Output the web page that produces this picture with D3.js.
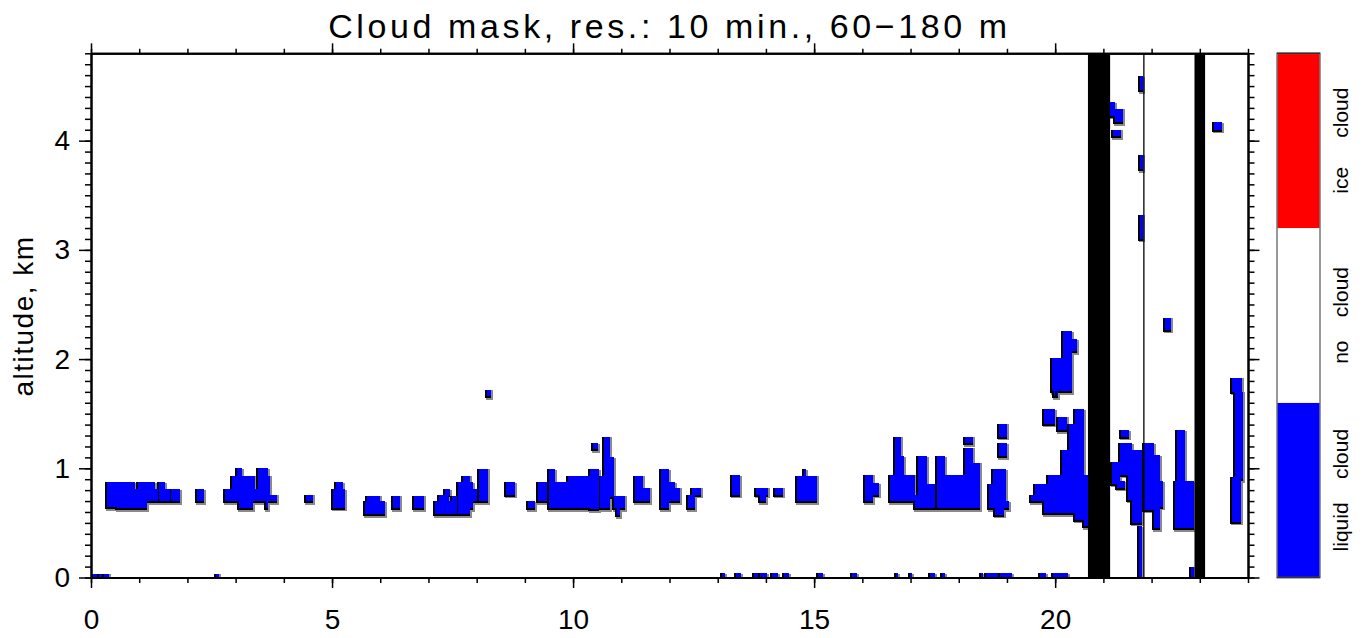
<!DOCTYPE html>
<html><head><meta charset="utf-8">
<script src="https://cdn.jsdelivr.net/npm/d3@7"></script>
<style>
body{margin:0;background:#fff;}
svg{display:block;}
text{font-family:"Liberation Sans",Arial,Helvetica,sans-serif;fill:#000;}
</style>
</head><body>
<svg id="chart" width="1366" height="638"></svg>
<script>
// ---------------- data ----------------
const titleText = "Cloud mask, res.: 10 min., 60\u2212180 m";
const yAxisLabel = "altitude, km";
const timeDomain = [0, 24];
const altDomain = [0, 4.8];
const timeTicks = [0, 5, 10, 15, 20];
const timeMinorTicks = d3.range(0, 25);
const altTicks = [0, 1, 2, 3, 4];
const altMinorTicks = d3.range(0, 49).map(i => i / 10);
const missingBars = [[20.68, 21.14], [22.89, 23.11]];
const missingLines = [21.84];
const legendLabels = ["liquid    cloud", "no    cloud", "ice     cloud"];
const legendColors = ["#0000ff", "#ffffff", "#ff0000"];
// liquid cloud cells: [time start h, time end h, base km, top km]
const liquidCloud = [
  [0.02,0.12,0,0.035],[0.16,0.23,0,0.035],[0.27,0.37,0,0.035],[2.59,2.66,0,0.035],
  [0.33,0.53,0.645,0.87],[0.53,0.91,0.635,0.87],[0.91,0.98,0.635,0.81],[0.98,1.155,0.635,0.87],
  [1.155,1.33,0.70,0.87],[1.33,1.40,0.70,0.81],
  [1.41,1.54,0.70,0.87],[1.54,1.64,0.70,0.81],
  [1.66,1.85,0.70,0.81],
  [2.19,2.35,0.70,0.81],
  [2.77,2.92,0.70,0.81],[2.92,3.06,0.70,0.93],[3.02,3.13,0.93,1.0],[3.06,3.37,0.635,0.93],
  [3.37,3.40,0.70,0.93],[3.40,3.47,0.70,0.81],[3.47,3.62,0.70,1.0],[3.62,3.67,0.635,1.0],
  [3.67,3.71,0.70,0.93],[3.71,3.85,0.70,0.76],
  [4.46,4.60,0.70,0.76],
  [5.03,5.27,0.64,0.81],[5.08,5.22,0.81,0.87],
  [5.69,6.09,0.58,0.70],[5.72,6.00,0.70,0.75],
  [6.27,6.41,0.635,0.75],
  [6.71,6.91,0.635,0.75],
  [7.14,7.60,0.58,0.70],[7.21,7.42,0.70,0.757],[7.34,7.44,0.757,0.81],[7.49,7.59,0.70,0.75],
  [7.62,7.86,0.58,0.87],[7.72,7.86,0.87,0.93],[7.86,7.93,0.635,0.87],[7.93,8.0,0.70,0.81],
  [8.04,8.24,0.70,0.995],
  [8.22,8.30,1.66,1.72],
  [8.61,8.80,0.757,0.873],
  [9.06,9.21,0.635,0.70],
  [9.27,9.45,0.70,0.873],
  [9.50,9.63,0.635,0.99],[9.63,9.90,0.635,0.87],[9.90,10.35,0.635,0.93],[10.35,10.53,0.625,0.99],
  [10.55,10.65,0.635,0.925],[10.65,10.77,0.635,1.29],[10.77,10.84,0.74,1.10],[10.84,11.08,0.635,0.75],
  [10.91,10.98,0.57,0.635],[10.42,10.51,1.175,1.23],
  [11.29,11.46,0.70,0.93],[11.46,11.60,0.70,0.82],
  [11.83,11.98,0.635,0.99],[11.98,12.11,0.70,0.87],[12.11,12.22,0.70,0.82],
  [12.39,12.53,0.635,0.76],[12.46,12.65,0.76,0.82],
  [13.29,13.46,0.757,0.934],
  [13.80,14.05,0.757,0.82],[13.88,14.0,0.70,0.757],
  [14.19,14.36,0.757,0.82],
  [14.65,15.05,0.70,0.93],[14.78,14.83,0.93,0.99],
  [13.08,13.15,0,0.04],[13.38,13.48,0,0.04],[13.75,13.84,0,0.04],[13.88,14.02,0,0.04],
  [14.12,14.26,0,0.04],[14.37,14.47,0,0.04],[15.09,15.18,0,0.04],
  [16.06,16.22,0.70,0.94],[16.22,16.35,0.757,0.864],
  [16.57,16.67,0.70,0.94],[16.67,16.80,0.70,1.29],[16.80,16.87,0.70,1.11],[16.87,17.10,0.70,0.94],
  [17.10,17.16,0.635,0.757],[17.16,17.34,0.635,1.11],[17.34,17.51,0.635,0.86],
  [17.55,17.72,0.635,1.11],[17.72,18.13,0.635,0.94],[18.13,18.29,0.635,1.19],[18.13,18.29,1.23,1.29],
  [18.29,18.44,0.635,1.05],
  [18.63,18.99,0.635,0.86],[18.72,18.99,0.86,0.99],[18.76,18.93,0.573,0.635],[18.99,19.05,0.635,0.70],
  [18.83,19.0,1.29,1.41],[18.83,19.0,1.11,1.23],
  [15.78,15.89,0,0.04],[16.70,16.74,0,0.04],[16.98,17.02,0,0.04],[17.41,17.51,0,0.04],
  [17.65,17.72,0,0.04],[18.47,18.50,0,0.04],[18.57,18.82,0,0.04],[18.86,19.10,0,0.04],
  [19.68,19.80,0,0.04],[19.96,20.26,0,0.04],
  [19.50,19.65,0.70,0.76],[19.58,19.86,0.70,0.86],[19.76,20.14,0.59,0.70],[19.86,20.14,0.70,0.94],
  [20.14,20.41,0.59,1.17],[20.28,20.41,1.17,1.41],[20.41,20.59,0.53,1.54],[20.59,20.68,0.47,0.94],
  [19.76,20.0,1.41,1.54],[20.06,20.24,1.35,1.47],
  [19.93,20.17,1.705,2.01],[20.17,20.35,1.705,2.255],[20.35,20.45,2.07,2.18],
  [19.97,20.0,1.66,1.705],[20.03,20.06,1.66,1.705],
  [21.37,21.54,1.29,1.35],[21.35,21.59,0.94,1.23],[21.59,21.80,0.50,1.17],[21.52,21.59,0.71,0.94],
  [21.18,21.35,0.86,1.06],[21.28,21.45,0.82,0.88],[21.73,21.81,0.0,0.47],
  [21.85,22.04,0.62,1.23],[22.04,22.18,0.45,1.12],[22.18,22.23,0.65,0.88],
  [22.52,22.70,0.88,1.35],[22.49,22.87,0.45,0.88],
  [22.82,22.89,0,0.1],
  [22.27,22.41,2.27,2.38],
  [23.66,23.87,1.70,1.83],[23.74,23.89,0.90,1.70],[23.66,23.85,0.51,0.92],
  [21.14,21.24,4.23,4.35],[21.24,21.40,4.17,4.29],[21.21,21.37,4.04,4.10],
  [21.76,21.83,4.46,4.59],[21.76,21.83,3.74,3.87],[21.76,21.83,3.10,3.32],
  [23.29,23.46,4.10,4.17]
];

// ---------------- layout ----------------
const svg = d3.select("#chart");
const plot = {left: 91, right: 1248, top: 53.3, bottom: 577.5};
const x = d3.scaleLinear().domain(timeDomain).range([plot.left, plot.right]);
const y = d3.scaleLinear().domain(altDomain).range([plot.bottom, plot.top]);

svg.append("defs").append("clipPath").attr("id", "clip")
  .append("rect").attr("x", plot.left).attr("y", plot.top)
  .attr("width", plot.right - plot.left).attr("height", plot.bottom - plot.top);

const cloudG = svg.append("g").attr("clip-path", "url(#clip)");
const layers = [
  {fill: "#8a8a8a", dx: 0.5, dy: 2, pad: 1.5},
  {fill: "#000000", dx: -1, dy: 1, pad: 1},
  {fill: "#0000ff", dx: 0, dy: 0, pad: 0}
];
layers.forEach(L => {
  cloudG.append("g").attr("shape-rendering", "crispEdges")
    .selectAll("rect").data(liquidCloud).join("rect")
    .attr("x", d => Math.round(x(d[0]) - L.pad + L.dx))
    .attr("y", d => Math.round(y(d[3]) - L.pad + L.dy))
    .attr("width", d => Math.round(x(d[1]) + L.pad + L.dx) - Math.round(x(d[0]) - L.pad + L.dx))
    .attr("height", d => Math.round(y(d[2]) + L.pad + L.dy) - Math.round(y(d[3]) - L.pad + L.dy))
    .attr("fill", L.fill);
});

// missing data bars
cloudG.append("g").selectAll("rect").data(missingBars).join("rect")
  .attr("x", d => x(d[0])).attr("width", d => x(d[1]) - x(d[0]))
  .attr("y", y(altDomain[1])).attr("height", y(altDomain[0]) - y(altDomain[1]))
  .attr("fill", "#000");
cloudG.append("g").selectAll("line").data(missingLines).join("line")
  .attr("x1", d => x(d)).attr("x2", d => x(d))
  .attr("y1", y(altDomain[0])).attr("y2", y(altDomain[1]))
  .attr("stroke", "#000").attr("stroke-width", 1.3);

// ---------------- axes ----------------
function styleAxis(g, sw) {
  g.select(".domain").attr("stroke", "#000").attr("stroke-width", 2);
  g.selectAll(".tick line").attr("stroke", "#000").attr("stroke-width", sw);
  g.selectAll("text").attr("fill", "#000").style("font-size", "28px")
    .attr("font-family", "Liberation Sans, Arial, sans-serif");
}
// bottom
svg.append("g").attr("transform", `translate(0,${plot.bottom})`)
  .call(d3.axisBottom(x).tickValues(timeMinorTicks).tickSize(5.5).tickSizeOuter(0).tickFormat(""))
  .call(g => styleAxis(g, 1.5));
svg.append("g").attr("transform", `translate(0,${plot.bottom})`)
  .call(d3.axisBottom(x).tickValues(timeTicks).tickSize(10.5).tickSizeOuter(0).tickPadding(21.5).tickFormat(d3.format("d")))
  .call(g => styleAxis(g, 1.5));
// top
svg.append("g").attr("transform", `translate(0,${plot.top})`)
  .call(d3.axisTop(x).tickValues(timeMinorTicks).tickSize(4.5).tickSizeOuter(0).tickFormat(""))
  .call(g => styleAxis(g, 1.5));
svg.append("g").attr("transform", `translate(0,${plot.top})`)
  .call(d3.axisTop(x).tickValues(timeTicks).tickSize(10).tickSizeOuter(0).tickFormat(""))
  .call(g => styleAxis(g, 1.5));
// left
svg.append("g").attr("transform", `translate(${plot.left},0)`)
  .call(d3.axisLeft(y).tickValues(altMinorTicks).tickSize(6).tickSizeOuter(0).tickFormat(""))
  .call(g => styleAxis(g, 1.5));
svg.append("g").attr("transform", `translate(${plot.left},0)`)
  .call(d3.axisLeft(y).tickValues(altTicks).tickSize(12).tickSizeOuter(0).tickPadding(9).tickFormat(d3.format("d")))
  .call(g => styleAxis(g, 1.5));
// right
svg.append("g").attr("transform", `translate(${plot.right},0)`)
  .call(d3.axisRight(y).tickValues(altMinorTicks).tickSize(6.5).tickSizeOuter(0).tickFormat(""))
  .call(g => styleAxis(g, 1.5));
svg.append("g").attr("transform", `translate(${plot.right},0)`)
  .call(d3.axisRight(y).tickValues(altTicks).tickSize(11.5).tickSizeOuter(0).tickFormat(""))
  .call(g => styleAxis(g, 1.5));

// title
svg.append("text").attr("x", (plot.left + plot.right) / 2).attr("y", 38)
  .attr("text-anchor", "middle").style("font-size", "34px").style("letter-spacing", "3.6px")
  .text(titleText);
// y label
svg.append("text").attr("transform", `translate(33,316) rotate(-90)`)
  .attr("text-anchor", "middle").style("font-size", "28px").style("letter-spacing", "1.5px")
  .text(yAxisLabel);

// ---------------- colour bar ----------------
const cb = {x0: 1277, x1: 1320};
const band = d3.scaleBand().domain(legendLabels).range([plot.bottom, plot.top]);
const bandTop = d => Math.min(band(d), band(d) + band.bandwidth());
const cbG = svg.append("g");
cbG.selectAll("rect").data(legendLabels).join("rect")
  .attr("x", cb.x0).attr("width", cb.x1 - cb.x0)
  .attr("y", d => bandTop(d)).attr("height", Math.abs(band.bandwidth()))
  .attr("fill", (d, i) => legendColors[i]);
cbG.append("rect").attr("x", cb.x0).attr("y", plot.top).attr("width", cb.x1 - cb.x0)
  .attr("height", plot.bottom - plot.top).attr("fill", "none")
  .attr("stroke", "#777").attr("stroke-width", 1.5);
cbG.append("line").attr("x1", cb.x0).attr("x2", cb.x1).attr("y1", plot.top).attr("y2", plot.top)
  .attr("stroke", "#333").attr("stroke-width", 1.5);
cbG.append("line").attr("x1", cb.x0).attr("x2", cb.x1).attr("y1", plot.bottom).attr("y2", plot.bottom)
  .attr("stroke", "#333").attr("stroke-width", 1.5);
cbG.selectAll("text").data(legendLabels).join("text")
  .attr("transform", d => `translate(1348,${bandTop(d) + Math.abs(band.bandwidth()) / 2}) rotate(-90)`)
  .attr("text-anchor", "middle").style("font-size", "21px").style("white-space", "pre")
  .attr("xml:space", "preserve")
  .text(d => d);
</script>
</body></html>
